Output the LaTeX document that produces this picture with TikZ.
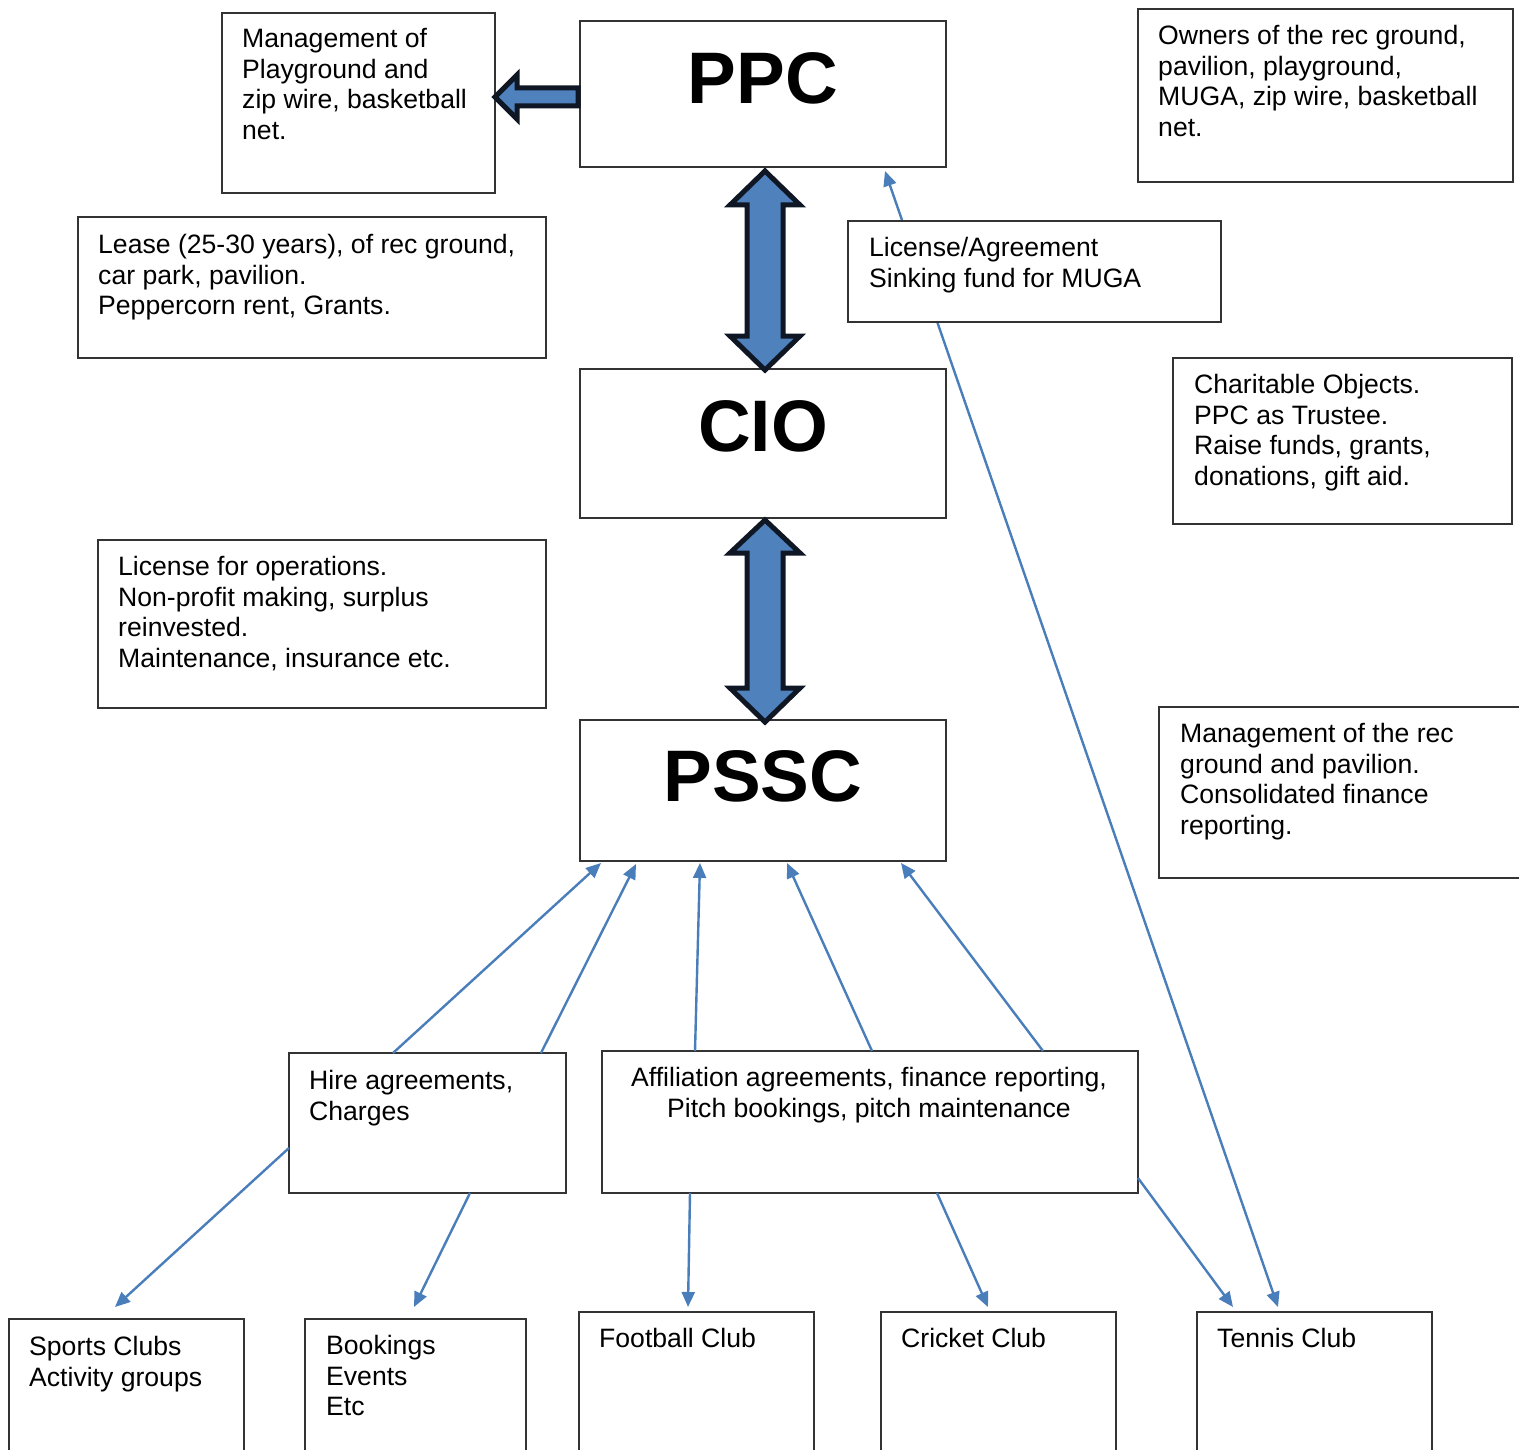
\documentclass[tikz,border=0pt]{standalone}
\usepackage{fontspec}
\setmainfont{Liberation Sans}
\usetikzlibrary{arrows.meta,calc}
\definecolor{conncol}{HTML}{4A7EBB}
\definecolor{blockcol}{HTML}{4F81BD}
\definecolor{blockline}{HTML}{0F1724}
\definecolor{boxline}{HTML}{333333}
\tikzset{
  box/.style={draw=boxline, line width=1.4pt, fill=white, inner sep=0pt, outer sep=0pt, rectangle},
  txt/.style={inner sep=0pt, anchor=north west, align=left, font=\fontsize{26.6}{30.6}\selectfont},
  ctxt/.style={inner sep=0pt, anchor=north, align=center, font=\fontsize{26.6}{30.6}\selectfont},
  title/.style={inner sep=0pt, font=\fontsize{73}{80}\selectfont\bfseries},
  conn/.style={draw=conncol, line width=2.4pt, -{Triangle[length=15pt,width=13pt]}},
  dconn/.style={draw=conncol, line width=2.4pt, {Triangle[length=15pt,width=13pt]}-{Triangle[length=15pt,width=13pt]}},
  blockarrow/.style={fill=blockcol, draw=blockline, line width=5pt, line join=miter}
}
\begin{document}
\begin{tikzpicture}[x=1pt,y=-1pt]
\useasboundingbox (0,0) rectangle (1519,1450);
\clip (0,0) rectangle (1519,1450);
\fill[white] (0,0) rectangle (1519,1450);

\node[box, minimum width=366pt, minimum height=146pt] (ppc) at (763,94) {};
\node[box, minimum width=235pt, minimum height=168pt] (tennis) at (1314.5,1396) {};

% long double-headed line PPC <-> Tennis (behind licence box)
\draw[dconn] ($(ppc.south west)+(305,4)$) -- ($(tennis.north west)+(81,-5)$);

\node[box, minimum width=273pt, minimum height=180pt] (mp) at (358.5,103) {};
\node[box, minimum width=375pt, minimum height=173pt] (own) at (1325.5,95.5) {};
\node[box, minimum width=468pt, minimum height=141pt] (lease) at (312,287.5) {};
\node[box, minimum width=373pt, minimum height=101pt] (lic) at (1034.5,271.5) {};
\node[box, minimum width=366pt, minimum height=149pt] (cio) at (763,443.5) {};
\node[box, minimum width=339pt, minimum height=166pt] (char) at (1342.5,441) {};
\node[box, minimum width=448pt, minimum height=168pt] (ops) at (322,624) {};
\node[box, minimum width=366pt, minimum height=141pt] (pssc) at (763,790.5) {};
\node[box, minimum width=381pt, minimum height=171pt] (mrec) at (1349.5,792.5) {};
\node[box, minimum width=277pt, minimum height=140pt] (hire) at (427.5,1123) {};
\node[box, minimum width=536pt, minimum height=142pt] (aff) at (870,1122) {};
\node[box, minimum width=235pt, minimum height=161pt] (sports) at (126.5,1399.5) {};
\node[box, minimum width=221pt, minimum height=161pt] (book) at (415.5,1399.5) {};
\node[box, minimum width=235pt, minimum height=168pt] (foot) at (696.5,1396) {};
\node[box, minimum width=235pt, minimum height=168pt] (crick) at (998.5,1396) {};

\node[title] (ppct) at (763,78) {PPC};
\node[title] (ciot) at (763,426) {CIO};
\node[title] (pssct) at (763,776) {PSSC};

\node[txt] (mpt) at (242,26) {\strut Management of\\Playground and\\zip wire, basketball\\net.};
\node[txt] (ownt) at (1158,23) {\strut Owners of the rec ground,\\pavilion, playground,\\MUGA, zip wire, basketball\\net.};
\node[txt] (leaset) at (98,232) {\strut Lease (25-30 years), of rec ground,\\car park, pavilion.\\Peppercorn rent, Grants.};
\node[txt] (lict) at (869,235) {\strut License/Agreement\\Sinking fund for MUGA};
\node[txt] (chart) at (1194,372) {\strut Charitable Objects.\\PPC as Trustee.\\Raise funds, grants,\\donations, gift aid.};
\node[txt] (opst) at (118,554) {\strut License for operations.\\Non-profit making, surplus\\reinvested.\\Maintenance, insurance etc.};
\node[txt] (mrect) at (1180,721) {\strut Management of the rec\\ground and pavilion.\\Consolidated finance\\reporting.};
\node[txt] (hiret) at (309,1068) {\strut Hire agreements,\\Charges};
\node[ctxt] (afft) at (869,1065) {\strut Affiliation agreements, finance reporting,\\Pitch bookings, pitch maintenance};
\node[txt] (sportst) at (29,1334) {\strut Sports Clubs\\Activity groups};
\node[txt] (bookt) at (326,1333) {\strut Bookings\\Events\\Etc};
\node[txt] (foott) at (599,1326) {\strut Football Club};
\node[txt] (crickt) at (901,1326) {\strut Cricket Club};
\node[txt] (tennist) at (1217,1326) {\strut Tennis Club};

% block arrows
\path[blockarrow] (495,97) -- (517,75) -- (517,88) -- (578,88) -- (578,106) -- (517,106) -- (517,119) -- cycle;
\path[blockarrow] (765,171) -- (800,205) -- (783,205) -- (783,336) -- (800,336) -- (765,370) -- (730,336) -- (747,336) -- (747,205) -- (730,205) -- cycle;
\path[blockarrow] (765,520) -- (800,553) -- (783,553) -- (783,688) -- (800,688) -- (765,722) -- (730,688) -- (747,688) -- (747,553) -- (730,553) -- cycle;

% thin connectors
\draw[conn] ($(hire.north west)+(104,0)$) -- ($(pssc.south west)+(21,2)$);
\draw[conn] ($(hire.north west)+(252,0)$) -- ($(pssc.south west)+(56,3)$);
\draw[conn] ($(aff.north west)+(93,0)$) -- ($(pssc.south west)+(120,2)$);
\draw[conn] ($(aff.north west)+(270,0)$) -- ($(pssc.south west)+(207,2)$);
\draw[conn] ($(aff.north west)+(441,0)$) -- ($(pssc.south west)+(321,2)$);
\draw[conn] ($(hire.north west)+(0,95)$) -- ($(sports.north west)+(106,-12)$);
\draw[conn] ($(hire.south west)+(181,0)$) -- ($(book.north west)+(109,-12)$);
\draw[conn] ($(aff.south west)+(88,0)$) -- ($(foot.north west)+(109,-5)$);
\draw[conn] ($(aff.south west)+(335,0)$) -- ($(crick.north west)+(107,-5)$);
\draw[conn] ($(aff.north east)+(0,127)$) -- ($(tennis.north west)+(36,-5)$);
\end{tikzpicture}
\end{document}
